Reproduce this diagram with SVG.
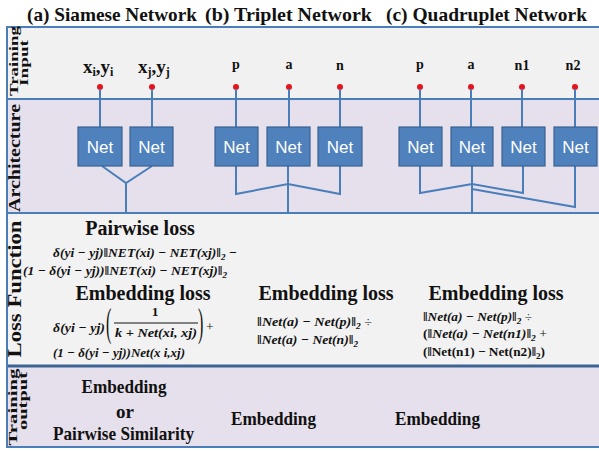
<svg xmlns="http://www.w3.org/2000/svg" width="599" height="451" viewBox="0 0 599 451">
  <defs>
    <style>
      .title,.side,.in,.inb,.head,.eq,.equp,.out{font-family:"Liberation Serif","Times New Roman",Times,"DejaVu Serif",serif;fill:#111}
      .title{font-weight:bold;font-size:19.5px}
      .side{font-weight:bold;font-size:19px;text-anchor:middle}
      .in{font-weight:bold;font-size:14px;text-anchor:middle}
      .inb{font-weight:bold;font-size:19px}
      .head{font-weight:bold;font-size:20px;text-anchor:middle}
      .eq{font-weight:bold;font-style:italic;font-size:13.5px}
      .equp{font-weight:bold;font-size:13px}
      .out{font-weight:bold;font-size:19px;text-anchor:middle}
      .net rect{fill:#4f81bd;stroke:#3a6290;stroke-width:1.2}
      .net text{font-family:"Liberation Sans",Arial,sans-serif;font-size:17px;fill:#fff;text-anchor:middle}
      .wire{fill:none;stroke:#4a7ebb;stroke-width:2;stroke-linejoin:miter}
      .dot{fill:#e8141c}
      .rule{stroke:#4a7ebb;stroke-width:2}
    </style>
  </defs>

  <!-- heading -->
  <g id="titles">
    <text class="title" x="27" y="21" textLength="170" lengthAdjust="spacingAndGlyphs">(a) Siamese Network</text>
    <text class="title" x="205" y="21" textLength="167" lengthAdjust="spacingAndGlyphs">(b) Triplet Network</text>
    <text class="title" x="386" y="21" textLength="201" lengthAdjust="spacingAndGlyphs">(c) Quadruplet Network</text>
  </g>

  <!-- row bands -->
  <g id="rows">
    <rect x="7" y="27" width="592" height="72" fill="#f1f1f1"/>
    <rect x="7" y="99" width="592" height="114" fill="#e6e0ec"/>
    <rect x="7" y="213" width="592" height="153" fill="#f2f2f2"/>
    <rect x="7" y="366" width="592" height="81" fill="#e6e0ec"/>
    <line class="rule" x1="6" y1="27" x2="599" y2="27"/>
    <line class="rule" x1="6" y1="99" x2="599" y2="99"/>
    <line class="rule" x1="6" y1="213" x2="599" y2="213"/>
    <line x1="6" y1="366" x2="599" y2="366" stroke="#3c6595" stroke-width="3"/>
    <line class="rule" x1="6" y1="447" x2="599" y2="447"/>
    <line class="rule" x1="7" y1="26" x2="7" y2="448"/>
  </g>

  <!-- row labels -->
  <g id="row-labels">
    <text class="side" style="font-size:13px" transform="translate(18,61) rotate(-90)" textLength="70" lengthAdjust="spacingAndGlyphs">Training</text>
    <text class="side" style="font-size:13px" transform="translate(28,63) rotate(-90)" textLength="46" lengthAdjust="spacingAndGlyphs">Input</text>
    <text class="side" style="font-size:17px" transform="translate(19.5,158) rotate(-90)" textLength="108" lengthAdjust="spacingAndGlyphs">Architecture</text>
    <text class="side" style="font-size:19px" transform="translate(21,289) rotate(-90)" textLength="137" lengthAdjust="spacingAndGlyphs">Loss Function</text>
    <text class="side" style="font-size:13px" transform="translate(17,407) rotate(-90)" textLength="77" lengthAdjust="spacingAndGlyphs">Training</text>
    <text class="side" style="font-size:13px" transform="translate(26.5,401) rotate(-90)" textLength="58" lengthAdjust="spacingAndGlyphs">output</text>
  </g>

  <!-- training inputs -->
  <g id="inputs">
    <text class="inb" x="83" y="73">x<tspan font-size="12" dy="3">i</tspan><tspan dy="-3">,y</tspan><tspan font-size="12" dy="3">i</tspan></text>
    <text class="inb" x="138" y="73">x<tspan font-size="12" dy="3">j</tspan><tspan dy="-3">,y</tspan><tspan font-size="12" dy="3">j</tspan></text>
    <text class="in" x="236" y="69">p</text>
    <text class="in" x="289" y="69">a</text>
    <text class="in" x="340" y="70">n</text>
    <text class="in" x="420" y="69">p</text>
    <text class="in" x="471" y="69">a</text>
    <text class="in" x="522" y="70">n1</text>
    <text class="in" x="573" y="70">n2</text>
    <circle class="dot" cx="100" cy="87" r="3"/>
    <circle class="dot" cx="152" cy="87" r="3"/>
    <circle class="dot" cx="236" cy="87" r="3"/>
    <circle class="dot" cx="289" cy="87" r="3"/>
    <circle class="dot" cx="340" cy="87" r="3"/>
    <circle class="dot" cx="420" cy="87" r="3"/>
    <circle class="dot" cx="471" cy="87" r="3"/>
    <circle class="dot" cx="522" cy="87" r="3"/>
    <circle class="dot" cx="575" cy="87" r="3"/>
  </g>

  <!-- connectors -->
  <g id="connectors">
    <path class="wire" d="M100 89V127M152 89V127M236 89V127M289 89V127M340 89V127M420 89V127M471 89V127M522 89V127M575 89V127"/>
    <!-- siamese merge -->
    <path class="wire" d="M102 166L126 183L152 166M126 183V213"/>
    <!-- triplet merge -->
    <path class="wire" d="M236 166V194L288 184L340 194V166M288 166V213"/>
    <!-- quadruplet merge -->
    <path class="wire" d="M420 166V193L472 184L523 193V166M472 166V213M472 189L575 207V166"/>
  </g>

  <!-- networks -->
  <g id="net-a1" class="net"><rect x="78" y="127" width="44" height="39"/><text x="100" y="152.5">Net</text></g>
  <g id="net-a2" class="net"><rect x="130" y="127" width="43" height="39"/><text x="151.5" y="152.5">Net</text></g>
  <g id="net-b1" class="net"><rect x="215" y="127" width="43" height="39"/><text x="236.5" y="152.5">Net</text></g>
  <g id="net-b2" class="net"><rect x="267" y="127" width="43" height="39"/><text x="288.5" y="152.5">Net</text></g>
  <g id="net-b3" class="net"><rect x="318" y="127" width="44" height="39"/><text x="340" y="152.5">Net</text></g>
  <g id="net-c1" class="net"><rect x="399" y="127" width="43" height="39"/><text x="420.5" y="152.5">Net</text></g>
  <g id="net-c2" class="net"><rect x="451" y="127" width="42" height="39"/><text x="472" y="152.5">Net</text></g>
  <g id="net-c3" class="net"><rect x="502" y="127" width="43" height="39"/><text x="523.5" y="152.5">Net</text></g>
  <g id="net-c4" class="net"><rect x="554" y="127" width="43" height="39"/><text x="575.5" y="152.5">Net</text></g>

  <!-- loss functions -->
  <g id="loss-a">
    <text class="head" x="140" y="235">Pairwise loss</text>
    <text class="eq" x="53" y="257" textLength="184" lengthAdjust="spacingAndGlyphs">δ(yi − yj)‖NET(xi) − NET(xj)‖<tspan font-size="9" dy="2.5">2</tspan><tspan dy="-2.5"> −</tspan></text>
    <text class="eq" x="23" y="275" textLength="204" lengthAdjust="spacingAndGlyphs">(1 − δ(yi − yj))‖NET(xi) − NET(xj)‖<tspan font-size="9" dy="2.5">2</tspan></text>
    <text class="head" x="143" y="300">Embedding loss</text>
    <text class="eq" x="53" y="332" textLength="52" lengthAdjust="spacingAndGlyphs">δ(yi − yj)</text>
    <text class="eq" style="font-style:normal;font-weight:normal;font-size:16px" transform="translate(106,336) scale(1,2.5)">(</text>
    <text class="eq" x="155" y="316" text-anchor="middle" style="font-style:normal">1</text>
    <line x1="114" y1="323" x2="198" y2="323" stroke="#111" stroke-width="1.2"/>
    <text class="eq" x="115" y="337" textLength="82" lengthAdjust="spacingAndGlyphs">k + Net(xi, xj)</text>
    <text class="eq" style="font-style:normal;font-weight:normal;font-size:16px" transform="translate(198,336) scale(1,2.5)">)</text>
    <text class="eq" x="206" y="331" style="font-style:normal;font-weight:normal">+</text>
    <text class="eq" x="53" y="357" textLength="132" lengthAdjust="spacingAndGlyphs">(1 − δ(yi − yj))Net(x i,xj)</text>
  </g>

  <g id="loss-b">
    <text class="head" x="326" y="300">Embedding loss</text>
    <text class="eq" x="257" y="326" textLength="115" lengthAdjust="spacingAndGlyphs">‖Net(a) − Net(p)‖<tspan font-size="9" dy="2.5">2</tspan><tspan dy="-2.5" style="font-style:normal;font-weight:normal"> ÷</tspan></text>
    <text class="eq" x="257" y="344" textLength="101" lengthAdjust="spacingAndGlyphs">‖Net(a) − Net(n)‖<tspan font-size="9" dy="2.5">2</tspan></text>
  </g>

  <g id="loss-c">
    <text class="eq" style="font-size:13px" x="423" y="321" textLength="109" lengthAdjust="spacingAndGlyphs">‖Net(a) − Net(p)‖<tspan font-size="9" dy="2.5">2</tspan><tspan dy="-2.5" style="font-style:normal;font-weight:normal"> ÷</tspan></text>
    <text class="head" x="496" y="300">Embedding loss</text>
    <text class="eq" style="font-size:13px" x="423" y="338" textLength="124" lengthAdjust="spacingAndGlyphs"><tspan style="font-style:normal">(</tspan>‖Net(a) − Net(n1)‖<tspan font-size="9" dy="2.5">2</tspan><tspan dy="-2.5" style="font-style:normal;font-weight:normal"> +</tspan></text>
    <text class="equp" x="423" y="356" textLength="122" lengthAdjust="spacingAndGlyphs">(‖Net(n1) − Net(n2)‖<tspan font-size="9" dy="2.5">2</tspan><tspan dy="-2.5">)</tspan></text>
  </g>

  <!-- training outputs -->
  <g id="output-a">
    <text class="out" x="124" y="393" textLength="85" lengthAdjust="spacingAndGlyphs">Embedding</text>
    <text class="out" x="125" y="418">or</text>
    <text class="out" x="123.5" y="440" textLength="141" lengthAdjust="spacingAndGlyphs">Pairwise Similarity</text>
  </g>
  <g id="output-b">
    <text class="out" x="273.5" y="425" textLength="85" lengthAdjust="spacingAndGlyphs">Embedding</text>
  </g>
  <g id="output-c">
    <text class="out" x="437.5" y="425" textLength="85" lengthAdjust="spacingAndGlyphs">Embedding</text>
  </g>
</svg>
